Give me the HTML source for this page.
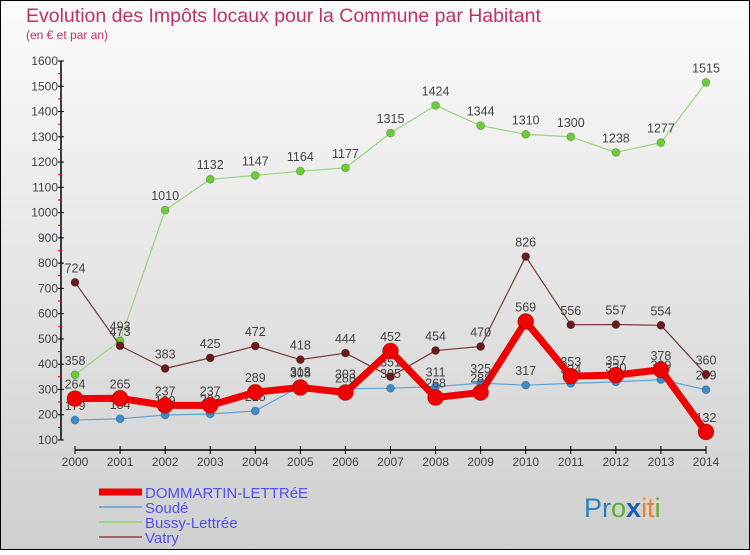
<!DOCTYPE html>
<html><head><meta charset="utf-8"><style>
html,body{margin:0;padding:0}
body{width:750px;height:550px;overflow:hidden;font-family:"Liberation Sans",sans-serif}
text{font-family:"Liberation Sans",sans-serif}
</style></head><body>
<svg id="chart" width="750" height="550" xmlns="http://www.w3.org/2000/svg">
<defs><linearGradient id="bg" x1="0" y1="0" x2="0" y2="1"><stop offset="0" stop-color="#fbfbfb"/><stop offset="1" stop-color="#cfcfcf"/></linearGradient></defs>
<rect x="0.5" y="0.5" width="749" height="549" fill="url(#bg)" stroke="#000" stroke-width="1"/>
<text x="26" y="22" font-size="19.5" fill="#c0306a">Evolution des Impôts locaux pour la Commune par Habitant</text>
<text x="26" y="39" font-size="12" fill="#c0306a">(en € et par an)</text>
<g id="axes"></g>
<g id="series"></g>
<g id="legend"></g>
<text x="584" y="517" font-size="27"><tspan fill="#2a7fc0">Pr</tspan><tspan fill="#5ab030">o</tspan><tspan fill="#1a5fb0" font-weight="bold">x</tspan><tspan fill="#f08020">it</tspan><tspan fill="#5ab030">i</tspan></text>
</svg>
<script>
const years=[2000,2001,2002,2003,2004,2005,2006,2007,2008,2009,2010,2011,2012,2013,2014];
const dommartin=[264,265,237,237,289,308,288,452,268,288,569,353,357,378,132];
const soude=[179,184,199,203,215,313,303,305,311,325,317,324,330,339,299];
const bussy=[358,493,1010,1132,1147,1164,1177,1315,1424,1344,1310,1300,1238,1277,1515];
const vatry=[724,473,383,425,472,418,444,351,454,470,826,556,557,554,360];
const yTicks=[100,200,300,400,500,600,700,800,900,1000,1100,1200,1300,1400,1500,1600];
const NS="http://www.w3.org/2000/svg";
const X=i=>75+i*(631/14);
const Y=v=>440-(v-100)*(379/1500);
function mk(tag,attrs,parent){const e=document.createElementNS(NS,tag);for(const k in attrs)e.setAttribute(k,attrs[k]);parent.appendChild(e);return e;}
const ax=document.getElementById('axes');
let yl=mk('line',{x1:61,y1:Y(1600),x2:61,y2:440,stroke:'#000','stroke-width':1.5},ax);


yTicks.forEach(t=>{
  let l=mk('line',{x1:58,x2:64,y1:Y(t),y2:Y(t),stroke:'#000'},ax);
  
  
  let tx=mk('text',{x:58,y:Y(t)+4,'text-anchor':'end','font-size':12,fill:'#444'},ax);
  tx.textContent=t;
  
  
  if(t<1600){let m=mk('line',{x1:58,x2:61,y1:Y(t+50),y2:Y(t+50),stroke:'#e00'},ax);
  
  }
});
let xl=mk('line',{x1:X(0),y1:450,x2:X(14),y2:450,stroke:'#000','stroke-width':1.5},ax);


years.forEach((yr,i)=>{
  let l=mk('line',{x1:X(i),x2:X(i),y1:446,y2:454,stroke:'#000'},ax);
  
  
  let tx=mk('text',{x:X(i),y:466,'text-anchor':'middle','font-size':12,fill:'#444'},ax);
  tx.textContent=yr;
  
  
});
const sg=document.getElementById('series');
function series(name,data,color,dot,w,r){
  const g=mk('g',{},sg);
  
  
  const p=mk('polyline',{points:data.map((v,i)=>X(i)+','+Y(v)).join(' '),fill:'none',stroke:color,'stroke-width':w,'stroke-linejoin':'round'},g);
  
  
  data.forEach((v,i)=>{
    const c=mk('circle',{cx:X(i),cy:Y(v),r:r,fill:dot,stroke:'#00000033'},g);
    
    
    const t=mk('text',{x:X(i),y:Y(v)-10,'text-anchor':'middle','font-size':12.5,fill:'#444'},g);
    t.textContent=v;
    
    
  });
}
series('soude',soude,'#5ba3d6','#3a8ccc',1.2,4);
series('bussy',bussy,'#9ad67a','#6ccc38',1.2,4);
series('vatry',vatry,'#7a3a3a','#6a1a1a',1.2,4);
series('dommartin',dommartin,'#f00000','#f00000',7,8);
const lg=document.getElementById('legend');
const items=[['DOMMARTIN-LETTRéE','#f00000',7],['Soudé','#7aaad0',2],['Bussy-Lettrée','#9ad67a',2],['Vatry','#9a6a6a',2]];
items.forEach((it,i)=>{
  const y=492+i*15;
  const l=mk('line',{x1:99,x2:142,y1:y,y2:y,stroke:it[1],'stroke-width':it[2]},lg);
  
  
  const t=mk('text',{x:145,y:y+6,'font-size':15,fill:'#5050f0'},lg);
  t.textContent=it[0];
  
  
});
</script>
</body></html>
